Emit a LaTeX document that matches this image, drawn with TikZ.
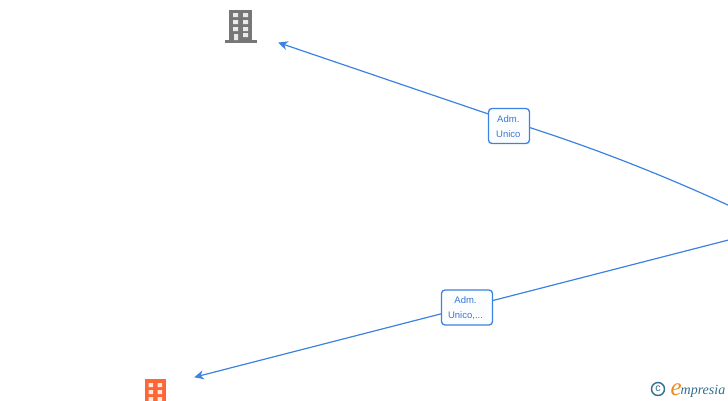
\documentclass[tikz,border=0pt]{standalone}
\usepackage{fontspec}
\setmainfont{Liberation Sans}
\newfontfamily\logofont{Liberation Serif}
\usetikzlibrary{arrows.meta}
\definecolor{linkblue}{HTML}{3C82E0}
\definecolor{labelblue}{HTML}{3A78D0}
\definecolor{boxfill}{HTML}{FBFDFF}
\definecolor{greybuilding}{HTML}{777777}
\definecolor{orangebuilding}{HTML}{FF6633}
\definecolor{logoteal}{HTML}{2F6F8F}
\definecolor{logoorange}{HTML}{F08A1D}
\tikzset{
  link/.style={draw=linkblue,line width=1.2pt},
  arrowlink/.style={link,-{Stealth[length=9.5pt,width=9pt,inset=2.8pt]}},
  rolebox/.style={draw=linkblue,fill=boxfill,line width=1.3pt,rounded corners=3.5pt,inner sep=0pt},
  roletext/.style={text=labelblue,font=\fontsize{9.5}{15}\selectfont,align=center,inner sep=0pt},
  iconspot/.style={inner sep=0pt,minimum width=0pt,minimum height=0pt}
}
\begin{document}
\begin{tikzpicture}[x=1pt,y=-1pt]
\useasboundingbox (0,0) rectangle (728,400);
\clip (0,0) rectangle (728,400);
% grey building
\fill[greybuilding] (229,10) rectangle (252,41);
\fill[greybuilding] (225,40.2) rectangle (257,43);
\fill[white,opacity=.85] (233,13) rectangle (238,17) (243,13) rectangle (248,17)
  (233,20) rectangle (238,24) (243,20) rectangle (248,24)
  (233,27) rectangle (238,31) (243,27) rectangle (248,31)
  (243,33) rectangle (248,37) (234,34) rectangle (238,40.2);
\node[iconspot] (topco) at (278,42.5) {};
% orange building
\fill[orangebuilding] (145,379) rectangle (166,402);
\fill[white,opacity=.85] (148.5,383) rectangle (153,387) (157.5,383) rectangle (162,387)
  (148.5,390) rectangle (153,394) (157.5,390) rectangle (162,394)
  (148.5,397) rectangle (153,401) (157.5,397) rectangle (162,401);
\node[iconspot] (lowco) at (194,377.3) {};
% right-hand ends
\coordinate (rightA) at (730,206);
\coordinate (rightB) at (730,239.6);
\coordinate (bendA) at (509,121);
% connectors, running behind the labels
\draw[arrowlink] (rightA) .. controls (665,176) and (590,146) .. (bendA) -- (topco);
\draw[arrowlink] (rightB) -- (lowco);
% labels
\node[rolebox,minimum width=41pt,minimum height=35pt] (roleA) at (509,126) {};
\node[roletext] (roleAtext) at (508.3,126.3) {Adm.\\Unico};
\node[rolebox,minimum width=51pt,minimum height=35pt] (roleB) at (467,307.5) {};
\node[roletext] (roleBtext) at (465.5,308.3) {Adm.\\Unico,...};
% logo
\node[iconspot,text=logoteal,draw=logoteal,line width=1.4pt,circle,minimum size=13pt,font=\fontsize{10.5}{10}\selectfont] (copy) at (658,389) {c};
\node[iconspot,anchor=base west,text=logoorange,font=\logofont\itshape\fontsize{25}{25}\selectfont] (logoe) at (670.5,395.5) {e};
\node[iconspot,anchor=base west,text=logoteal,font=\logofont\itshape\fontsize{14}{15}\selectfont] (logotext) at (680.5,394) {mpresia};
\end{tikzpicture}
\end{document}
